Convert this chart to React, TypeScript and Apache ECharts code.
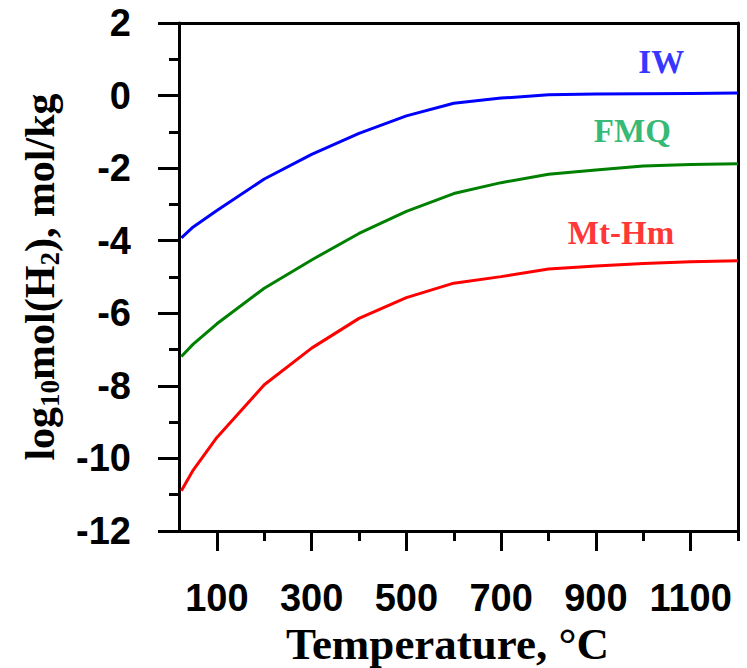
import React, { useEffect, useRef } from "react";
import * as echarts from "echarts";

const temperatures = [25, 50, 100, 200, 300, 400, 500, 600, 700, 800, 900, 1000, 1100, 1200];
const iwValues = [-3.92, -3.62, -3.17, -2.3, -1.62, -1.04, -0.56, -0.21, -0.07, 0.02, 0.04, 0.05, 0.06, 0.07];
const fmqValues = [-7.19, -6.85, -6.29, -5.31, -4.53, -3.8, -3.19, -2.7, -2.4, -2.17, -2.05, -1.94, -1.9, -1.88];
const mthmValues = [-10.89, -10.32, -9.42, -7.97, -6.96, -6.14, -5.57, -5.17, -4.99, -4.78, -4.7, -4.63, -4.58, -4.55];

const majorXTicks = [100, 300, 500, 700, 900, 1100];
const minorXTicks = [200, 400, 600, 800, 1000, 1200];

const seriesNames = ["IW", "FMQ", "Mt-Hm"];
const lineColors = ["#0000ff", "#008000", "#ff0000"];
const labelColors = ["#0000ff", "#00a651", "#ff0000"];
const labelPositions: [number, number][] = [
  [1038, 0.93],
  [977, -0.97],
  [953, -3.79],
];

export default function App() {
  const ref = useRef<HTMLDivElement>(null);
  useEffect(() => {
    if (!ref.current) return;
    document.body.style.margin = "0";
    const chart = echarts.init(ref.current, null, { renderer: "svg" });
    const allValues = [iwValues, fmqValues, mthmValues];
    const lineSeries = allValues.map((vals, i) => ({
      type: "line",
      name: seriesNames[i],
      data: temperatures.map((t, j) => [t, vals[j]]),
      showSymbol: false,
      symbol: "none",
      lineStyle: { color: lineColors[i], width: 3 },
      xAxisIndex: 0,
      yAxisIndex: 0,
      z: 5,
    }));
    const labelSeries = labelPositions.map((p, i) => ({
      type: "scatter",
      data: [p],
      symbolSize: 0.001,
      xAxisIndex: 0,
      yAxisIndex: 0,
      label: {
        show: true,
        position: [0, 0],
        align: "center",
        verticalAlign: "middle",
        formatter: seriesNames[i],
        color: labelColors[i],
        fontFamily: "Liberation Serif",
        fontWeight: "bold",
        fontSize: 33,
      },
      z: 6,
    }));
    const xBase = {
      type: "value",
      min: 20,
      max: 1200,
      gridIndex: 0,
      splitLine: { show: false },
    };
    const blackLine = { color: "#000", width: 3 };
    chart.setOption({
      animation: false,
      grid: {
        left: 179,
        top: 23,
        right: 9,
        bottom: 137,
        containLabel: false,
        outerBoundsMode: "none",
      },
      xAxis: [
        {
          ...xBase,
          position: "bottom",
          name: "Temperature, °C",
          nameLocation: "middle",
          nameGap: 89,
          nameTextStyle: {
            fontFamily: "Liberation Serif",
            fontWeight: "bold",
            fontSize: 45,
            color: "#000",
            padding: [0, 22, 0, 0],
          },
          axisLine: { show: true, onZero: false, lineStyle: blackLine },
          axisTick: {
            show: true,
            inside: false,
            length: 20,
            customValues: majorXTicks,
            lineStyle: blackLine,
          },
          axisLabel: {
            show: true,
            customValues: majorXTicks,
            formatter: (v: number) => String(v),
            margin: 48,
            fontFamily: "Liberation Sans",
            fontWeight: "bold",
            fontSize: 38,
            color: "#000",
          },
        },
        {
          ...xBase,
          position: "bottom",
          axisLine: { show: false, onZero: false },
          axisTick: {
            show: true,
            inside: false,
            length: 10,
            customValues: minorXTicks,
            lineStyle: blackLine,
          },
          axisLabel: { show: false },
        },
        {
          ...xBase,
          position: "top",
          axisLine: { show: true, onZero: false, lineStyle: blackLine },
          axisTick: { show: false },
          axisLabel: { show: false },
        },
      ],
      yAxis: [
        {
          type: "value",
          min: -12,
          max: 2,
          interval: 2,
          splitLine: { show: false },
          name: "{n|log}{s|10}{n|mol(H}{s|2}{n|), mol/kg}",
          nameLocation: "middle",
          nameRotate: 90,
          nameGap: 116,
          nameTextStyle: {
            rich: {
              n: {
                fontFamily: "Liberation Serif",
                fontWeight: "bold",
                fontSize: 42,
                lineHeight: 46,
                color: "#000",
                verticalAlign: "middle",
              },
              s: {
                fontFamily: "Liberation Serif",
                fontWeight: "bold",
                fontSize: 27,
                lineHeight: 27,
                color: "#000",
                verticalAlign: "bottom",
              },
            },
          },
          axisLine: { show: true, onZero: false, lineStyle: blackLine },
          axisTick: {
            show: true,
            inside: false,
            length: 21,
            lineStyle: blackLine,
          },
          minorTick: {
            show: true,
            splitNumber: 2,
            length: 10,
            lineStyle: blackLine,
          },
          axisLabel: {
            margin: 48,
            fontFamily: "Liberation Sans",
            fontWeight: "bold",
            fontSize: 38,
            color: "#000",
          },
        },
        {
          type: "value",
          min: -12,
          max: 2,
          interval: 2,
          position: "right",
          splitLine: { show: false },
          axisLine: { show: true, onZero: false, lineStyle: blackLine },
          axisTick: { show: false },
          axisLabel: { show: false },
        },
      ],
      series: [...lineSeries, ...labelSeries],
    } as any);
    return () => chart.dispose();
  }, []);
  return <div ref={ref} style={{ width: 747, height: 668 }} />;
}
